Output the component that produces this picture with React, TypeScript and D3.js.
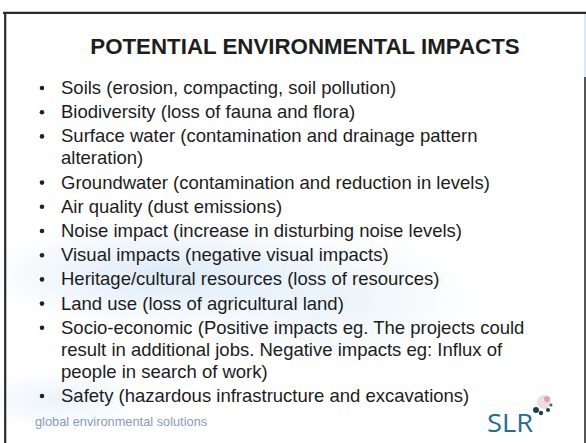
import React from "react";
import * as d3 from "d3";

const title = "POTENTIAL ENVIRONMENTAL IMPACTS";
const items: string[][] = [
  ["Soils (erosion, compacting, soil pollution)"],
  ["Biodiversity (loss of fauna and flora)"],
  ["Surface water (contamination and drainage pattern", "alteration)"],
  ["Groundwater (contamination and reduction in levels)"],
  ["Air quality (dust emissions)"],
  ["Noise impact (increase in disturbing noise levels)"],
  ["Visual impacts (negative visual impacts)"],
  ["Heritage/cultural resources (loss of resources)"],
  ["Land use (loss of agricultural land)"],
  [
    "Socio-economic (Positive impacts eg. The projects could",
    "result in additional jobs. Negative impacts eg: Influx of",
    "people in search of work)",
  ],
  ["Safety (hazardous infrastructure and excavations)"],
];
const footer = "global environmental solutions";
const logo = "SLR";

const W = 586;
const H = 443;
const FONT = "'Liberation Sans', Arial, Helvetica, sans-serif";

export default function App() {
  const firstBaseline = 94;
  const itemGap = 24.2;
  const wrapGap = 22;

  // layout of lines
  const lines: { text: string; y: number; bullet: boolean }[] = [];
  let y = firstBaseline;
  items.forEach((it, i) => {
    if (i > 0) y += itemGap;
    it.forEach((t, j) => {
      if (j > 0) y += wrapGap;
      lines.push({ text: t, y, bullet: j === 0 });
    });
  });
  const yScale = d3.scaleIdentity();

  return (
    <svg
      width={W}
      height={H}
      style={{ position: "absolute", left: 0, top: 0, background: "#fff" }}
      fontFamily={FONT}
    >
      <defs>
        <radialGradient id="wm" cx="0.5" cy="0.5" r="0.5">
          <stop offset="0%" stopColor="#cfe3f4" stopOpacity="0.75" />
          <stop offset="100%" stopColor="#cfe3f4" stopOpacity="0" />
        </radialGradient>
        <radialGradient id="wm2" cx="0.5" cy="0.5" r="0.5">
          <stop offset="0%" stopColor="#dcebf7" stopOpacity="0.6" />
          <stop offset="100%" stopColor="#dcebf7" stopOpacity="0" />
        </radialGradient>
      </defs>
      <rect x={0} y={0} width={W} height={H} fill="#fff" />
      {/* faint watermark */}
      <ellipse cx={170} cy={275} rx={190} ry={55} fill="url(#wm)" />
      <ellipse cx={330} cy={300} rx={150} ry={70} fill="url(#wm2)" />
      <ellipse cx={60} cy={400} rx={90} ry={30} fill="url(#wm2)" />

      {/* frame */}
      <line x1={3} x2={586} y1={12.8} y2={12.8} stroke="#2a2a2a" strokeWidth={2.2} />
      <line x1={5.2} x2={5.2} y1={12} y2={H} stroke="#2a2a2a" strokeWidth={2.2} />
      <line x1={585} x2={585} y1={77} y2={H} stroke="#2a2a2a" strokeWidth={1.6} />
      <line x1={585} x2={585} y1={14} y2={77} stroke="#cfe6f5" strokeWidth={1.6} />

      <text
        x={305}
        y={54}
        textAnchor="middle"
        fontSize={22.3}
        fontWeight="bold"
        fill="#1e1e1e"
      >
        {title}
      </text>

      {lines.map((l, i) => (
        <g key={i}>
          {l.bullet && (
            <circle cx={42} cy={yScale(l.y) - 6} r={2.3} fill="#222" />
          )}
          <text x={61} y={yScale(l.y)} fontSize={18.5} fill="#1c1c1c">
            {l.text}
          </text>
        </g>
      ))}

      <text x={35} y={426} fontSize={12.8} fill="#6c84a3" opacity={0.8}>
        {footer}
      </text>

      <text
        x={487}
        y={432}
        fontSize={26}
        fill="#1f6e8b"
        fontFamily="'Open Sans', 'Noto Sans', sans-serif"
        textLength={46}
        lengthAdjust="spacingAndGlyphs"
      >
        {logo}
      </text>
      {/* logo emblem */}
      <circle cx={544} cy={402} r={7} fill="#e9d3d8" opacity={0.8} />
      <circle cx={547} cy={399} r={3} fill="#d49aa6" opacity={0.8} />
      <circle cx={536} cy={410} r={3} fill="#1d3f52" />
      <circle cx={541} cy={413} r={2.2} fill="#1d3f52" />
      <circle cx={548} cy={410} r={2} fill="#1d3f52" />
      <circle cx={551} cy={405} r={1.5} fill="#2a6a86" />
    </svg>
  );
}
